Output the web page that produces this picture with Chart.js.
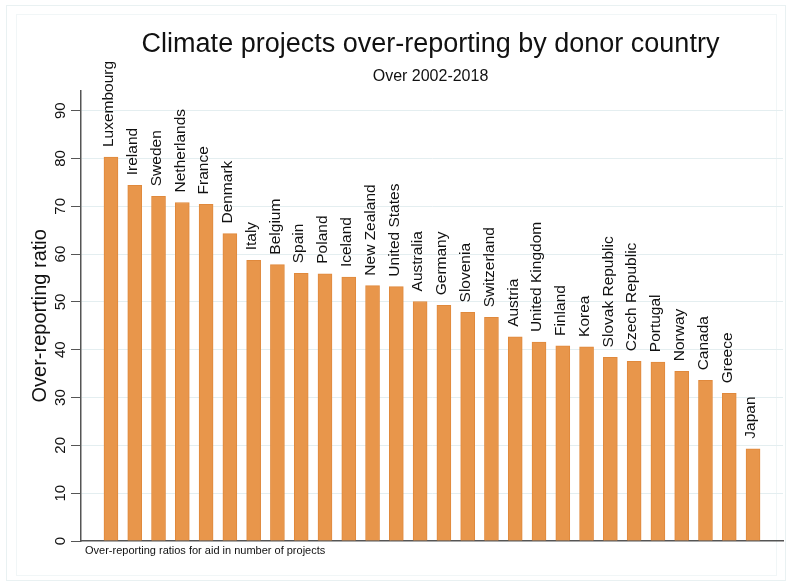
<!DOCTYPE html>
<html>
<head>
<meta charset="utf-8">
<script src="https://cdn.jsdelivr.net/npm/chart.js@4"></script>
<style>
  body { margin: 0; background: #fff; }
  #wrap { width: 791px; height: 584px; }
</style>
</head>
<body>
<div id="wrap"><canvas id="myChart" width="791" height="584"></canvas></div>
<script>
// data
const countries = [
  'Luxembourg', 'Ireland', 'Sweden', 'Netherlands', 'France', 'Denmark', 'Italy',
  'Belgium', 'Spain', 'Poland', 'Iceland', 'New Zealand', 'United States', 'Australia',
  'Germany', 'Slovenia', 'Switzerland', 'Austria', 'United Kingdom', 'Finland', 'Korea',
  'Slovak Republic', 'Czech Republic', 'Portugal', 'Norway', 'Canada', 'Greece', 'Japan'
];
const ratios = [
  80.3, 74.4, 72.1, 70.8, 70.4, 64.3, 58.7,
  57.8, 56.0, 55.9, 55.2, 53.4, 53.2, 50.1,
  49.3, 47.8, 46.8, 42.7, 41.6, 40.8, 40.6,
  38.4, 37.6, 37.4, 35.5, 33.6, 30.9, 19.3
];
const yTicks = [0, 10, 20, 30, 40, 50, 60, 70, 80, 90];

const FONT = '"Liberation Sans", Arial, Helvetica, sans-serif';

// extra text: y title, rotated tick labels, bar labels, note, frame
const extras = {
  id: 'extras',
  beforeDraw(chart) {
    const ctx = chart.ctx;
    ctx.save();
    ctx.strokeStyle = '#e9f1f2';
    ctx.lineWidth = 1;
    ctx.strokeRect(6.5, 5.5, 779, 575);
    ctx.strokeStyle = '#f1f6f7';
    ctx.strokeRect(16.5, 14.5, 760, 561);
    ctx.restore();
  },
  afterDraw(chart) {
    const ctx = chart.ctx;
    const y = chart.scales.y;
    const area = chart.chartArea;
    ctx.save();
    ctx.fillStyle = '#111';

    // y axis title
    ctx.save();
    ctx.translate(40, (area.top + area.bottom) / 2);
    ctx.rotate(-Math.PI / 2);
    ctx.font = '20px ' + FONT;
    ctx.textAlign = 'center';
    ctx.textBaseline = 'middle';
    ctx.fillText('Over-reporting ratio', 0, 0);
    ctx.restore();

    // y tick labels, rotated
    ctx.font = '15px ' + FONT;
    yTicks.forEach(v => {
      ctx.save();
      ctx.translate(61, y.getPixelForValue(v));
      ctx.rotate(-Math.PI / 2);
      ctx.textAlign = 'center';
      ctx.textBaseline = 'middle';
      ctx.fillText(String(v), 0, 0);
      ctx.restore();
    });

    // country labels above bars
    const meta = chart.getDatasetMeta(0);
    ctx.font = '15.5px ' + FONT;
    meta.data.forEach((bar, i) => {
      ctx.save();
      ctx.translate(bar.x - 2, bar.y - 10);
      ctx.rotate(-Math.PI / 2);
      ctx.textAlign = 'left';
      ctx.textBaseline = 'middle';
      ctx.fillText(countries[i], 0, 0);
      ctx.restore();
    });

    // note
    ctx.font = '11px ' + FONT;
    ctx.textAlign = 'left';
    ctx.textBaseline = 'middle';
    ctx.fillText('Over-reporting ratios for aid in number of projects', 85, 551);
    ctx.restore();
  }
};

// setup data block
const gdata = {
  datasets: [{
    label: 'Over-reporting ratio',
    data: ratios.map((v, i) => ({ x: i, y: v })),
    backgroundColor: '#e8964b',
    borderColor: '#e0893c',
    borderWidth: 1,
    barThickness: 14,
  }],
};

// config block
const config = {
  type: 'bar',
  data: gdata,
  options: {
    responsive: false,
    animation: false,
    layout: { padding: { left: 78, right: 8, top: 0, bottom: 0 } },
    plugins: {
      legend: { display: false },
      tooltip: { enabled: false },
      title: {
        display: true,
        text: 'Climate projects over-reporting by donor country',
        color: '#111',
        font: { family: FONT, size: 27, weight: 'normal' },
        padding: { top: 28, bottom: 0 },
      },
      subtitle: {
        display: true,
        text: 'Over 2002-2018',
        color: '#111',
        font: { family: FONT, size: 16, weight: 'normal' },
        padding: { top: 7, bottom: 4 },
      },
    },
    scales: {
      x: {
        type: 'linear',
        offset: false,
        bounds: 'data',
        min: -1.26,
        max: 28.26,
        ticks: { display: false },
        grid: { display: false, offset: false },
        border: { color: '#555', width: 1.5 },
        afterFit(scale) { scale.height = 43; },
      },
      y: {
        min: 0,
        max: 94.2,
        ticks: { display: false, stepSize: 10, includeBounds: false },
        grid: {
          color: ctx => (ctx.tick && ctx.tick.value === 0) ? 'rgba(0,0,0,0)' : '#e4eef0',
          tickColor: '#555',
          tickLength: 10,
          lineWidth: 1,
        },
        border: { color: '#555', width: 1.5 },
        afterFit(scale) { scale.width = 3; },
      },
    },
  },
  plugins: [extras],
};

// render block
const myChart = new Chart(document.getElementById('myChart'), config);
</script>
</body>
</html>
